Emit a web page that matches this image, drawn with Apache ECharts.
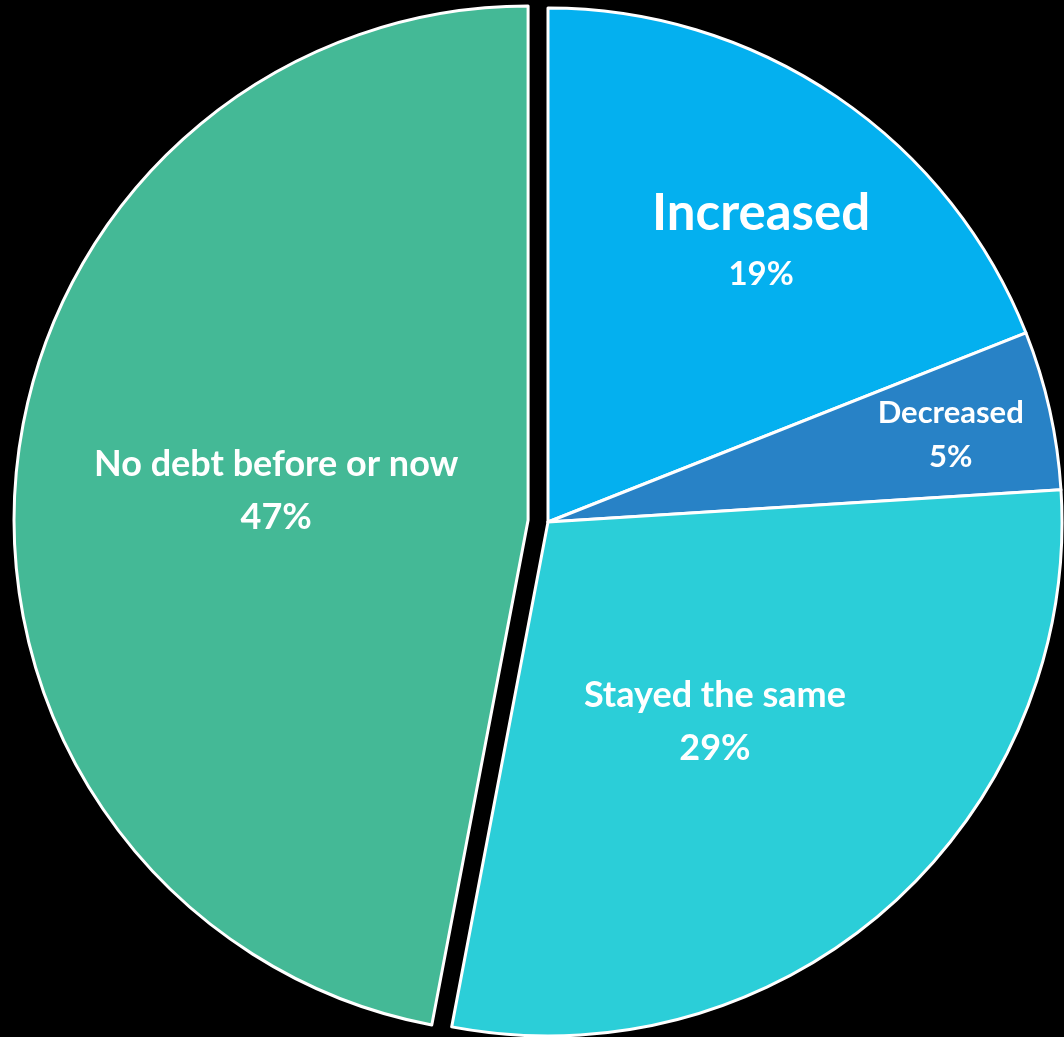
<!DOCTYPE html>
<html>
<head>
<meta charset="utf-8">
<style>
  html, body { margin: 0; padding: 0; background: #000; }
  #chart { width: 1064px; height: 1037px; }
</style>
<script src="https://cdn.jsdelivr.net/npm/echarts@6/dist/echarts.min.js"></script>
</head>
<body>
<div id="chart"></div>
<script>
// Change in debt, share of respondents
const categories = ['Increased', 'Decreased', 'Stayed the same', 'No debt before or now'];
const shares = [19, 5, 29, 47];
const sliceColors = ['#04B0EF', '#2882C6', '#2BCED8', '#44B996'];

// Typography per slice: [name size, value size, line height]
const labelSizes = {
  'Increased': [51, 33, 61],
  'Decreased': [31, 31, 44],
  'Stayed the same': [36, 36, 53],
  'No debt before or now': [36, 36, 53]
};
// Nudges for each label away from the default inside position
const labelNudge = {
  'Increased': [67, -63],
  'Decreased': [149, -30],
  'Stayed the same': [-5, 5],
  'No debt before or now': [7, -5]
};
// The slice pulled out of the pie
const explodedSlice = 'No debt before or now';

const chart = echarts.init(document.getElementById('chart'));

const FONT = 'Lato, "Open Sans", sans-serif';

const pieData = categories.map((name, i) => {
  const [s1, s2, lh] = labelSizes[name];
  return {
    name: name,
    value: shares[i],
    selected: name === explodedSlice,
    itemStyle: { color: sliceColors[i] },
    select: { itemStyle: { color: sliceColors[i], borderColor: '#fff', borderWidth: 3 } },
    label: {
      rich: {
        n: { fontSize: s1, fontWeight: 'bold', color: '#fff', fontFamily: FONT, lineHeight: lh, align: 'center' },
        v: { fontSize: s2, fontWeight: 'bold', color: '#fff', fontFamily: FONT, lineHeight: lh, align: 'center' }
      }
    }
  };
});

chart.setOption({
  backgroundColor: '#000',
  animation: false,
  series: [{
    type: 'pie',
    center: [548, 522],
    radius: [0, 514],
    startAngle: 90,
    clockwise: true,
    selectedMode: 'single',
    selectedOffset: 20,
    avoidLabelOverlap: false,
    itemStyle: { borderColor: '#fff', borderWidth: 3 },
    emphasis: { disabled: true },
    label: {
      show: true,
      position: 'inside',
      formatter: '{n|{b}}\n{v|{c}%}',
      color: '#fff'
    },
    labelLine: { show: false },
    labelLayout: function (params) {
      const d = labelNudge[categories[params.dataIndex]];
      return { dx: d[0], dy: d[1] };
    },
    data: pieData
  }]
});
</script>
</body>
</html>
